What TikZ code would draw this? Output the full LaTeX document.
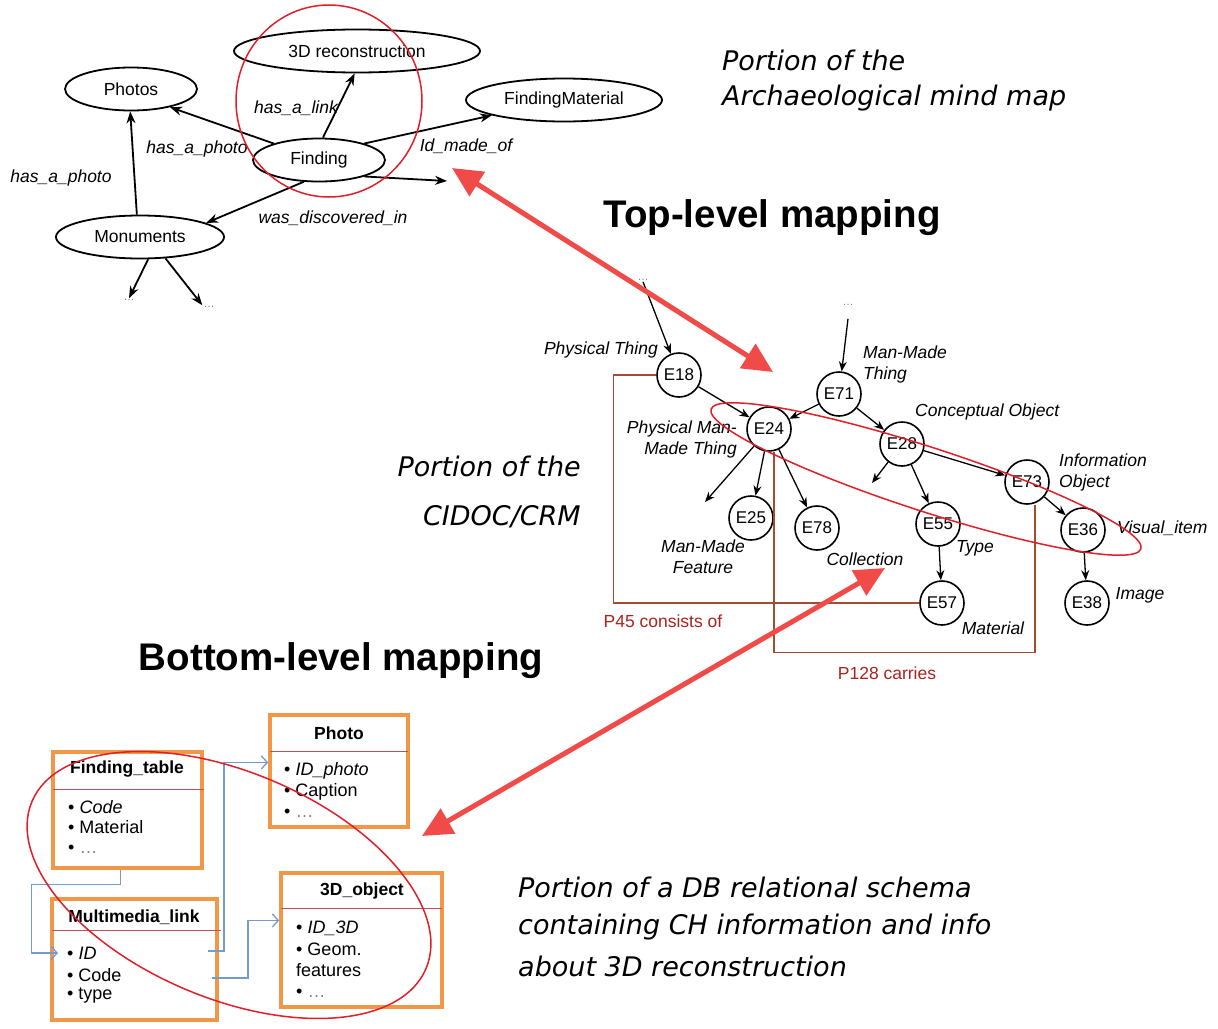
\documentclass[tikz,border=0pt]{standalone}
\usepackage{fontspec}
\setmainfont{Liberation Sans}
\newfontfamily\portfont{DejaVu Sans}
\usetikzlibrary{arrows.meta,shapes.geometric}

\definecolor{bigred}{RGB}{240,75,72}
\definecolor{ringred}{RGB}{226,30,40}
\definecolor{brk}{RGB}{165,75,50}
\definecolor{brktext}{RGB}{170,35,30}
\definecolor{tblorange}{RGB}{240,152,72}
\definecolor{sepred}{RGB}{190,80,90}
\definecolor{linkblue}{RGB}{115,155,205}

\tikzset{
  concept/.style={ellipse, draw=black, line width=1.8pt, minimum height=43pt, inner sep=0pt, font=\fontsize{17.5}{20}\selectfont},
  rel/.style={font=\fontsize{17.5}{20}\selectfont\itshape, inner sep=0pt},
  mmarrow/.style={-{Stealth[length=12pt,width=9pt]}, line width=1.8pt},
  crm/.style={circle, draw=black, line width=1.6pt, minimum size=44pt, inner sep=0pt, font=\fontsize{17}{20}\selectfont},
  crmarrow/.style={-{Stealth[length=10pt,width=8pt]}, line width=1.3pt},
  crmlabel/.style={font=\fontsize{17.5}{21}\selectfont\itshape, inner sep=0pt},
  brkline/.style={draw=brk, line width=1.3pt},
  brklabel/.style={text=brktext, font=\fontsize{17.5}{20}\selectfont, inner sep=0pt},
  ring/.style={draw=ringred, line width=1.5pt},
  bigarrow/.style={draw=bigred, line width=5pt, {Triangle[length=30pt,width=28pt]}-{Triangle[length=30pt,width=28pt]}},
  dots/.style={text=gray, font=\fontsize{11}{12}\selectfont, inner sep=1pt},
  port/.style={font=\portfont\itshape\fontsize{27}{32}\selectfont, inner sep=0pt},
  headline/.style={font=\bfseries\fontsize{38.5}{46}\selectfont, inner sep=0pt},
  tbl/.style={draw=tblorange, line width=3.5pt, inner sep=0pt},
  tbltitle/.style={font=\bfseries\fontsize{17.5}{20}\selectfont, inner sep=0pt},
  item/.style={font=\fontsize{18}{20}\selectfont, anchor=west, inner sep=0pt},
  sepline/.style={draw=sepred, line width=0.8pt},
  link/.style={draw=linkblue, line width=1.3pt, -{Straight Barb[length=6pt,width=13pt]}}
}

\begin{document}
\begin{tikzpicture}[x=1pt,y=-1pt]
\useasboundingbox[fill=white] (0,0) rectangle (1218,1028);

%Mind map
\node[concept, minimum width=246pt] (recon) at (357,51) {3D reconstruction};
\node[concept, minimum width=132pt] (photos) at (131,89) {Photos};
\node[concept, minimum width=196pt] (fmat) at (564,100) {FindingMaterial};
\node[concept, minimum width=132pt] (finding) at (319,160) {Finding};
\node[concept, minimum width=168pt] (monu) at (140,237) {Monuments};
\coordinate (loose) at (447,181);
\node[dots] (mdotsA) at (129,300) {\dots};
\node[dots] (mdotsB) at (209,307) {\dots};

\draw[mmarrow] (finding.160) -- (photos.-25);
\draw[mmarrow] (finding.80) -- (recon.264);
\draw[mmarrow] (finding.20) -- (fmat.192);
\draw[mmarrow] (finding.-20) -- (loose);
\draw[mmarrow] (finding.235) -- (monu.12);
\draw[mmarrow] (monu.98) -- (photos.268);
\draw[mmarrow] (monu.-70) -- (mdotsA.north);
\draw[mmarrow] (monu.-40) -- (mdotsB.north west);

\node[rel] (lbllink) at (296,108) {has\_a\_link};
\node[rel] (lblphotoA) at (197,149) {has\_a\_photo};
\node[rel] (lblmade) at (466,146) {Id\_made\_of};
\node[rel] (lbldisc) at (333,218) {was\_discovered\_in};
\node[rel] (lblphotoB) at (61,178) {has\_a\_photo};

\draw[ring] (329,101) ellipse (93 and 96);

%Texts
\node[port, anchor=west] (portA1) at (722,60) {Portion of the};
\node[port, anchor=west] (portA2) at (722,98) {Archaeological mind map};
\node[headline] (toplev) at (772,218) {Top-level mapping};
\node[port, anchor=east] (portB1) at (581,466) {Portion of the};
\node[port, anchor=east] (portB2) at (581,517) {CIDOC/CRM};
\node[headline] (botlev) at (341,661) {Bottom-level mapping};
\node[port, anchor=west] (portC1) at (518,887) {Portion of a DB relational schema};
\node[port, anchor=west] (portC2) at (518,927) {containing CH information and info};
\node[port, anchor=west] (portC3) at (518,966) {about 3D reconstruction};

%CIDOC
\node[crm] (e18) at (679,375) {E18};
\node[crm] (e71) at (839,394) {E71};
\node[crm] (e24) at (769,429) {E24};
\node[crm] (e28) at (902,444) {E28};
\node[crm] (e73) at (1027,482) {E73};
\node[crm] (e25) at (751,518) {E25};
\node[crm] (e78) at (817,528) {E78};
\node[crm] (e55) at (938,524) {E55};
\node[crm] (e36) at (1083,530) {E36};
\node[crm] (e57) at (942,603) {E57};
\node[crm] (e38) at (1087,603) {E38};
\node[dots] (cdotsA) at (643,280) {\dots};
\node[dots] (cdotsB) at (848,305) {\dots};
\coordinate (mmfeat) at (705,502);
\coordinate (e28free) at (872,483);

\draw[brkline] (e18.west) -- ++(-43,0) |- (e57.west);
\draw[brkline] ([xshift=5pt]e24.south) -- ++(0,201) -| ([xshift=8pt]e73.south);

\draw[crmarrow] (cdotsA.south) -- (e18);
\draw[crmarrow] ([yshift=-12pt]cdotsB.south) -- (e71);
\draw[crmarrow] (e18) -- (e24);
\draw[crmarrow] (e71) -- (e24);
\draw[crmarrow] (e71) -- (e28);
\draw[crmarrow] (e24) -- (mmfeat);
\draw[crmarrow] (e24) -- (e25);
\draw[crmarrow] (e24) -- (e78);
\draw[crmarrow] (e28) -- (e28free);
\draw[crmarrow] (e28) -- (e55);
\draw[crmarrow] (e28) -- (e73);
\draw[crmarrow] (e73) -- (e36);
\draw[crmarrow] (e55) -- (e57);
\draw[crmarrow] (e36) -- (e38);

\node[crmlabel, anchor=east] (lphys) at (658,350) {Physical Thing};
\node[crmlabel, anchor=west, align=left] (lmmt) at (863,364) {Man-Made\\Thing};
\node[crmlabel, anchor=east, align=right] (lpmmt) at (737,439) {Physical Man-\\Made Thing};
\node[crmlabel, anchor=west] (lconc) at (915,412) {Conceptual Object};
\node[crmlabel, anchor=west, align=left] (linfo) at (1059,472) {Information\\Object};
\node[crmlabel, anchor=west] (lvis) at (1117,528) {Visual\_item};
\node[crmlabel, align=center] (lfeat) at (703,557) {Man-Made\\Feature};
\node[crmlabel] (lcoll) at (865,559) {Collection};
\node[crmlabel] (ltype) at (975,548) {Type};
\node[crmlabel] (lmat) at (993,628) {Material};
\node[crmlabel] (limg) at (1140,595) {Image};
\node[brklabel] (p45) at (663,621) {P45 consists of};
\node[brklabel] (p128) at (887,673) {P128 carries};

\draw[ring, rotate around={-18:(926,479)}] (926,479) ellipse (226 and 32);

%Tables
\node[tbl, minimum width=149pt, minimum height=116pt] (ftab) at (127.5,810) {};
\node[tbltitle] (ftabT) at (127,769) {Finding\_table};
\draw[sepline] (53,789) -- (204,789);
\node[item] (fcode) at (68,807) {• \textit{Code}};
\node[item] (fmatr) at (68,827) {• Material};
\node[item] (fmore) at (68,849) {• \textcolor{gray}{\dots}};

\node[tbl, minimum width=138pt, minimum height=112pt] (photo) at (339,771) {};
\node[tbltitle] (photoT) at (339,733) {Photo};
\draw[sepline] (270,751) -- (408,751);
\node[item] (pid) at (284,771) {• \textit{ID\_photo}};
\node[item] (pcap) at (284,792) {• Caption};
\node[item] (pmore) at (284,813) {• \textcolor{gray}{\dots}};

\node[tbl, minimum width=165pt, minimum height=121pt] (mlink) at (134.5,959.5) {};
\node[tbltitle] (mlinkT) at (134,917) {Multimedia\_link};
\draw[sepline] (52,930) -- (221,930);
\node[item] (mlid) at (67,953) {• \textit{ID}};
\node[item] (mlcode) at (67,975) {• Code};
\node[item] (mltype) at (67,996) {• type};

\node[tbl, minimum width=161pt, minimum height=134pt] (obj3d) at (361.5,940) {};
\node[tbltitle] (obj3dT) at (362,891) {3D\_object};
\draw[sepline] (281,908) -- (442,908);
\node[item] (oid) at (296,928) {• \textit{ID\_3D}};
\node[item] (ogeom) at (296,949) {• Geom.};
\node[item] (ofeat) at (296,970) {features};
\node[item] (omore) at (296,993) {• \textcolor{gray}{\dots}};

\coordinate (mlidout) at (208,951);
\coordinate (mlcodeout) at (212,978);
\draw[link] ([xshift=-7pt]ftab.south) -- ++(0,15) -- ++(-89,0) |- ([xshift=-9pt]mlid.west);
\draw[link] (mlidout) -- ++(16,0) |- (photo.west |- pid.north);
\draw[link] (mlcodeout) -- ++(36,0) |- (obj3d.west |- oid.north);

\draw[ring, rotate around={-23:(229,885)}] (229,885) ellipse (214 and 113);

%Mapping arrows
\coordinate (mmtip) at (452,168);
\coordinate (crmtipA) at (773,372);
\coordinate (crmtipB) at (885,568);
\coordinate (dbtip) at (422,836);
\draw[bigarrow] (mmtip) -- (crmtipA);
\draw[bigarrow] (crmtipB) -- (dbtip);
\end{tikzpicture}
\end{document}
